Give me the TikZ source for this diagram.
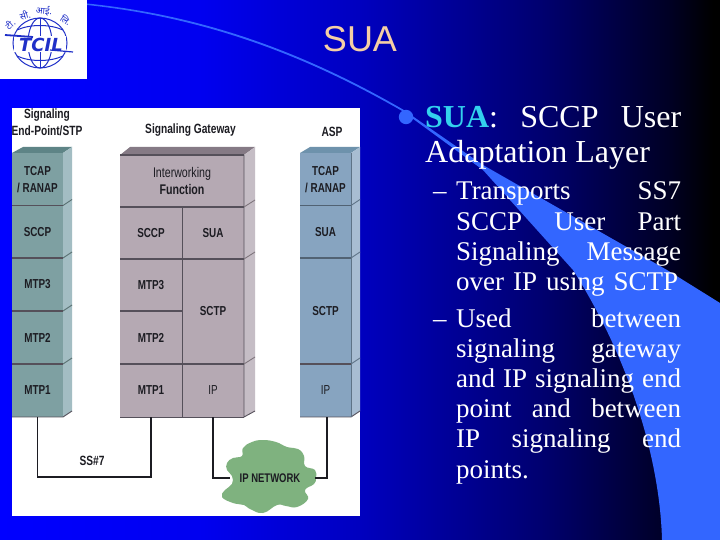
\documentclass[tikz,border=0pt]{standalone}
\usepackage{fontspec}
\setmainfont{Liberation Serif}
\newfontfamily\labf[FakeStretch=0.76]{Liberation Sans}
\newfontfamily\titlef{Liberation Sans}
\newfontfamily\logof{DejaVu Sans}
\newfontfamily\deva[Script=Devanagari]{Noto Sans}
\definecolor{swoosh}{HTML}{3366FF}
\definecolor{ink}{HTML}{1C1C22}
\definecolor{rule}{HTML}{55505A}
\definecolor{tealF}{HTML}{7EA0A2}\definecolor{tealS}{HTML}{A3BDC3}\definecolor{tealT}{HTML}{5E8486}
\definecolor{mauveF}{HTML}{B5A9B3}\definecolor{mauveS}{HTML}{C5BDC5}\definecolor{mauveT}{HTML}{857A85}
\definecolor{steelF}{HTML}{87A4C0}\definecolor{steelS}{HTML}{A8BDD2}\definecolor{steelT}{HTML}{6E92AC}
\definecolor{cloudG}{HTML}{7FB27F}
\definecolor{logoB}{HTML}{2030C8}
\pgfdeclarehorizontalshading{slidebg}{100bp}{
 rgb(0bp)=(0,0,1); rgb(25bp)=(0,0,1); rgb(38.9bp)=(0,0,.94); rgb(50bp)=(0,0,.75);
 rgb(62.5bp)=(0,0,.44); rgb(71.5bp)=(0,0,.14); rgb(74.5bp)=(0,0,0); rgb(100bp)=(0,0,0)}
\newcommand{\jline}[2][225pt]{\hbox to #1{#2}}
\tikzset{
 cell/.style={inner sep=0pt,outer sep=0pt,text=ink,align=center,
   font=\labf\bfseries\fontsize{13}{17}\selectfont},
 caption/.style={inner sep=0pt,text=ink,align=center,
   font=\labf\bfseries\fontsize{13.4}{17}\selectfont},
 divider/.style={draw=rule,line width=1.6pt},
 thinrule/.style={draw=rule,line width=.9pt},
 link/.style={draw=ink,line width=1.2pt},
 bodytext/.style={inner sep=0pt,anchor=base west,text=white},
 hindi/.style={inner sep=0pt,text=logoB,font=\deva\bfseries\fontsize{9}{9}\selectfont},
}
\begin{document}
\begin{tikzpicture}[x=1pt,y=-1pt]
\useasboundingbox (0,0) rectangle (720,540);
\shade[shading=slidebg] (0,0) rectangle (720,540);
% swoosh
\fill[swoosh] (87,3.5) .. controls (200,15) and (300,50) .. (403,109.5)
  -- (483,165) -- (667,270) -- (720,303) -- (720,540) -- (662,540)
  .. controls (660,460) and (630,360) .. (573,270) -- (483,170) -- (403,111.5)
  .. controls (300,52) and (200,17) .. (87,5) -- cycle;
% logo
\fill[white] (0,0) rectangle (87,79);
\begin{scope}[logoB,line width=1pt]
 \draw (40,43) ellipse [x radius=27,y radius=25];
 \draw (40,43) ellipse [x radius=12,y radius=25];
 \draw (40,18) -- (40,68);
 \draw (17,30) .. controls (30,24) and (50,24) .. (63,30);
 \draw (17,56) .. controls (30,62) and (50,62) .. (63,56);
 \fill[white] (14,36) rectangle (66,52);
 \draw[line width=1.8pt] (5,35) -- (33,37);
 \draw[line width=1.2pt] (50,50) -- (73,52);
\end{scope}
\node[inner sep=0pt,text=logoB,font=\logof\bfseries\itshape\fontsize{18}{18}\selectfont] (tcil) at (41,44.5) {TCIL};
\node[hindi,rotate=40] (h1) at (10,24) {टी.};
\node[hindi,rotate=15] (h2) at (25,15) {सी.};
\node[hindi,rotate=-5] (h3) at (44,11) {आई.};
\node[hindi,rotate=-35] (h4) at (66,20) {लि.};
% title
\node[inner sep=0pt,anchor=base,text={rgb,255:red,245;green,207;blue,165},font=\titlef\fontsize{36}{36}\selectfont] (title) at (360,52) {SUA};
% panel
\fill[white] (12,108) rectangle (360,516);
\node[caption] (capA) at (47,122.5) {Signaling\\End-Point/STP};
\node[caption] (capB) at (190.5,130) {Signaling Gateway};
\node[caption] (capC) at (332,132) {ASP};
% left stack
\fill[tealT] (12,153) -- (23,147) -- (72,147) -- (63,153) -- cycle;
\fill[tealS] (63,153) -- (72,147) -- (72,411) -- (63,417) -- cycle;
\node[cell,fill=tealF,minimum width=51pt,minimum height=52.7pt] (a1) at (37.5,179.3) {TCAP\\/ RANAP};
\node[cell,fill=tealF,minimum width=51pt,minimum height=52.7pt] (a2) at (37.5,232) {SCCP};
\node[cell,fill=tealF,minimum width=51pt,minimum height=53pt] (a3) at (37.5,284.5) {MTP3};
\node[cell,fill=tealF,minimum width=51pt,minimum height=53pt] (a4) at (37.5,337.5) {MTP2};
\node[cell,fill=tealF,minimum width=51pt,minimum height=53pt] (a5) at (37.5,390.5) {MTP1};
\foreach \y in {205.5,258,311,364} {
 \draw[divider] (12,\y) -- (63,\y);
 \draw[thinrule,draw=tealF!70!black] (63,\y) -- (72,\y-6);
}
\draw[thinrule] (12,417) -- (63,417) -- (72,411);
% middle stack
\fill[mauveT] (120,155) -- (130,147) -- (255,147) -- (244,155) -- cycle;
\fill[mauveS] (244,155) -- (255,147) -- (255,411) -- (244,417) -- cycle;
\node[cell,fill=mauveF,minimum width=124pt,minimum height=52pt,font=\labf\bfseries\fontsize{14}{17}\selectfont] (b1) at (182,181) {\mdseries Interworking\\Function};
\node[cell,fill=mauveF,minimum width=62pt,minimum height=52pt] (b2) at (151,233) {SCCP};
\node[cell,fill=mauveF,minimum width=62pt,minimum height=52pt] (b3) at (213,233) {SUA};
\node[cell,fill=mauveF,minimum width=62pt,minimum height=52pt] (b4) at (151,285) {MTP3};
\node[cell,fill=mauveF,minimum width=62pt,minimum height=53pt] (b5) at (151,337.5) {MTP2};
\node[cell,fill=mauveF,minimum width=62pt,minimum height=105pt] (b6) at (213,311.5) {SCTP};
\node[cell,fill=mauveF,minimum width=62pt,minimum height=53pt] (b7) at (151,390.5) {MTP1};
\node[cell,fill=mauveF,minimum width=62pt,minimum height=53pt] (b8) at (213,390.5) {\mdseries IP};
\draw[divider,line width=2.2pt] (120,155) -- (244,155);
\draw[divider] (120,207) -- (244,207) (120,259) -- (244,259) (120,311) -- (182,311);
\draw[divider,line width=2pt] (120,364) -- (244,364);
\draw[thinrule] (182,207) -- (182,417);
\draw[thinrule] (244,155) -- (244,417) -- (255,411);
\draw[thinrule] (120,417) -- (244,417);
\foreach \y in {207,259,364} \draw[thinrule,draw=mauveF!70!black] (244,\y) -- (255,\y-7);
% right stack
\fill[steelT] (300,153) -- (310,147) -- (360,147) -- (351,153) -- cycle;
\fill[steelS] (351,153) -- (360,147) -- (360,411) -- (351,417) -- cycle;
\node[cell,fill=steelF,minimum width=51pt,minimum height=52.7pt] (c1) at (325.5,179.3) {TCAP\\/ RANAP};
\node[cell,fill=steelF,minimum width=51pt,minimum height=52.7pt] (c2) at (325.5,232) {SUA};
\node[cell,fill=steelF,minimum width=51pt,minimum height=106pt] (c3) at (325.5,311) {SCTP};
\node[cell,fill=steelF,minimum width=51pt,minimum height=53pt] (c4) at (325.5,390.5) {\mdseries IP};
\draw[divider,draw=steelF!60!black] (300,205.5) -- (351,205.5) (300,258) -- (351,258);
\draw[divider] (300,364) -- (351,364);
\draw[thinrule] (300,417) -- (351,417) -- (360,411);
\draw[thinrule,draw=steelF!70!black] (351,153) -- (351,417);
\foreach \y in {205.5,258,364} \draw[thinrule,draw=steelF!70!black] (351,\y) -- (360,\y-6);
% cloud
\fill[cloudG] plot[smooth cycle,tension=.75] coordinates {
 (263,440) (276,442) (287,447) (298,449) (304,456) (305,466) (315,470) (316,478) (314,484) (305,490)
 (308,499) (297,507) (286,506) (277,505) (263,513) (250,509) (244,505) (233,503) (222,497) (225,490)
 (232,484) (232,476) (227,470) (227,463) (233,458) (242,456) (243,448) (252,442)};
\node[inner sep=0pt,text=ink,minimum width=85pt,font=\labf\bfseries\fontsize{12.5}{15}\selectfont] (cloud) at (272.5,478) {\hspace{-5pt}IP NETWORK};
% connectors
\draw[link] (a5.south) -- ++(0,60) -| (b7.south);
\node[caption] (ss7) at (92,461) {SS\#7};
\draw[link] (b8.south) |- (cloud.west);
\draw[link] (c4.south) ++(1.5,0) |- (cloud.east);
% bullet text
\fill[swoosh] (406,117) circle (7.2);
\node[bodytext,font=\fontsize{32}{35}\selectfont] (main) at (425,127.5) {\vtop{\baselineskip=35pt
 \jline[256pt]{\textcolor[rgb]{.2,.82,.93}{\textbf{SUA}}:\hfil SCCP\hfil User}
 \jline[256pt]{Adaptation Layer\hfil}}};
\node[bodytext,font=\fontsize{27}{30}\selectfont] (d1) at (433,200) {–};
\node[bodytext,font=\fontsize{27}{30}\selectfont] (p1) at (456,200) {\vtop{\baselineskip=30.1pt
 \jline{Transports\hfil SS7}
 \jline{SCCP\hfil User\hfil Part}
 \jline{Signaling\hfil Message}
 \jline[222pt]{over\hfil IP\hfil using\hfil SCTP}}};
\node[bodytext,font=\fontsize{27}{30}\selectfont] (d2) at (433,327) {–};
\node[bodytext,font=\fontsize{27}{30}\selectfont] (p2) at (456,327) {\vtop{\baselineskip=30.2pt
 \jline{Used\hfil between}
 \jline{signaling\hfil gateway}
 \jline{and\hfil IP\hfil signaling\hfil end}
 \jline{point\hfil and\hfil between}
 \jline{IP\hfil signaling\hfil end}
 \jline{points.\hfil}}};
\end{tikzpicture}
\end{document}
